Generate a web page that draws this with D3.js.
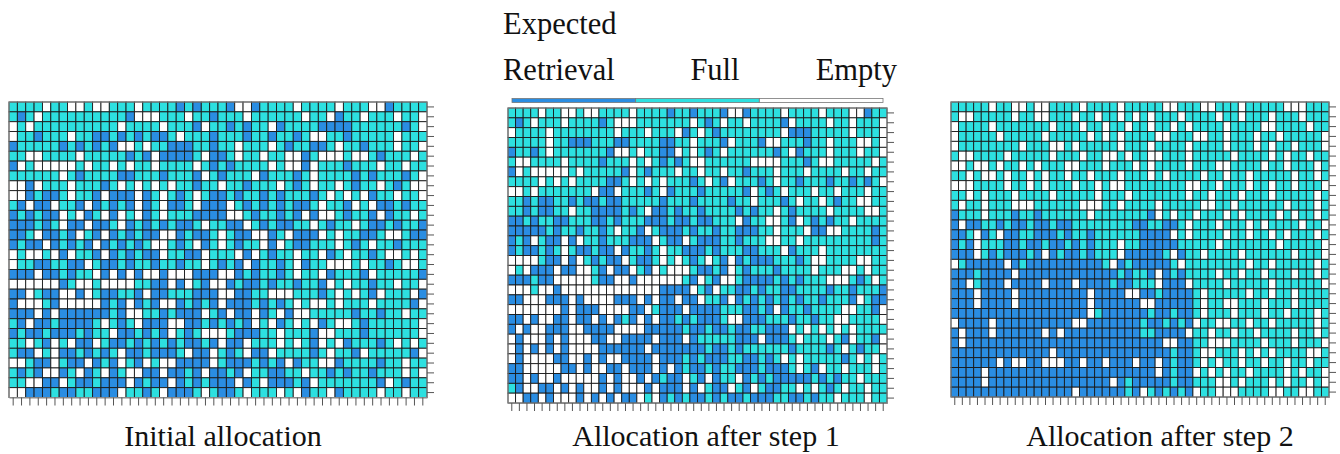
<!DOCTYPE html>
<html><head><meta charset="utf-8">
<script src="https://cdn.jsdelivr.net/npm/d3@7"></script>
<style>html,body{margin:0;padding:0;background:#fff;}svg{display:block;}</style>
</head><body>
<svg id="chart" width="1340" height="454"></svg>
<script>
// cell states: b = Expected Retrieval, c = Full, w = Empty
const stateKeys = ["b", "c", "w"];
const stateLabels = ["Retrieval", "Full", "Empty"];
const panelTitles = ["Initial allocation", "Allocation after step 1", "Allocation after step 2"];

const initialRows = [
"ccccwccwwc wwcccwcccc bcbcccbwwb ccccwccccw cccwwbcccc",
"cbcwcccccc ccccbwwwcc cwccbcccwc cccccwccwb ccwcccwccw",
"wcwccccccc cccwccccwc ccbwccbcbc cwbccccbbb bccccccbcw",
"wccbcccwcc bbcbcbcbbc wcccbcccbc cbccbcwwcc bcccccwccc",
"bcccccbcbc bcbwwcwccb bbccbccwcc cwcbccbbcw ccbcccwccw",
"ccwwccccwc ccccbcbwbb bbcwbbcwcc wccwwbcwww cwwcbcccwc",
"bwcwwwwwcw ccwcwccwcc ccwcbcbccc cwcwwbwccc bcccwccwcc",
"ccccccwcbc cccbbcccbc ccbwcbcccw bcccbcwccc cbcbcccbcw",
"wwbwcccwcc cbcwcwcwcw ccbccwccbc ccwcbcwccw cbccwcbcww",
"wwbcbbcwcc bwbbbwbcwc bcwcbbcbcc bcbcccbcwc wcwbccwccw",
"cbwbbwccbw bcbcbwbcwb bcwbbbwcbc bcbcbbcwcc bwcwbbcbcc",
"bcbcbbwcwb cwbwcwbcwc ccbbbbwwcb ccbcbwbwwc bccbwbccwc",
"bbbcbcwbbw bbcwbcbcbc bbcwccbbwc bcbbccwcbc cwcbbcbccb",
"bbcwbbcbwc bwbcbcbbww bcbbcwcbbw wbcwbbbwcw ccbbcwwcbb",
"bcbbwbcbcb wbcbcbcwwc bcwbcwcbcc wbwcbbcccw cbcwccbccc",
"wcwwcwbwcc bwbcbcbbwc cbbwcccwbw cbccwccwbc wccbcwwcwc",
"wccbbccbbw cbbcbccbcc bccwcbcbwb ccbcwbccww wcwccbcwwc",
"bbbwbbcbcc wbwbwbwwbw wwbbbwwbcb ccbcwccwbc ccbwcccccb",
"wwwwwwbcww cwwwwccbbw bwcbwwbcbb cbccbccbwc wccbccwccw",
"bbwcbbwwbw cbbccbwbbc ccbbbwwbbc cwwwcccbcw cwcbwcccwb",
"bwwwcbwwww wbcbwbcbww bcbcbwbbbc bcbcwcwwcw cccwccccbw",
"bbbwbwbbbb bbcbwwccbc bbbwcbwbbw bcwbwwcccc cbccbccwcc",
"cbwbbcbbbb cwcbcwbbbw wbbcbcbcbw cwbcwcwbcw wcbccccccw",
"bcbbcbbbcb ccwbbcbcbw cbcwwwcbbb ccwcccbwwc ccbccccccw",
"ccwcbwcwbb wcbbcbcbcb cbbcbwbbwc ccwcwcbwcw bcccbcwcwc",
"cbbwcwbbcb cbcwbbcbbb cwbbwcbcwb bwccccbcwc cbwcccccbw",
"wwcbbwcbbw bcbwcbwcww bbbbwcbbbc bcbwbccwwb ccccbccwcc",
"cbcbwwbcwb cwbcwwbbwb bcbwbbcbwc cbbccwccbc bccbcccwcw",
"ccwwbbwcbb cbbbwbcbbw bcbcbbbwbc wbbbcbwccc ccccbwcbcc",
"wwbbbcbbcc bbbwccbcwb bbcwcbbcwc ccwcwbccwb ccccwccwcc"
];

const step1Rows = [
"ccccwccwwc wwccccwccc cbccbcccbw wbccccwccc cwcccwwbcc",
"cbcwcccwcc ccbcwwwccc ccccwcbcwc cwccccbwcc ccwccwcccw",
"wccccwcccc ccccwcccwc ccwbcwcbcc ccccccwbbb cccccwcccw",
"cccccwccbb bcccbbcccc bbccwcccbw cccbwwcccb ccwcccwwcw",
"bccbcwcccc cccbwwcwcc bbwcwcbcwc cccccbcwbc ccwcccwccw",
"cwwccccwcc ccbcccwcwc bcbcwwcccc ccwwwwcccb cwwcccccwc",
"bwcwwwwwcw cccccbwcbc ccwccwccwc cbcccwcccw ccccwccwcc",
"ccccwcwcwc cccbbcwcwc wcccbcwcbw cccbcwccbc ccbccbcbcw",
"wwcwcccccc cwbbwcccbc wbcccbcccc cbwcbcwccc wccwcccwcc",
"ccbcbbccbc bbcbbccccc bcccbccccb ccwcccbcwc cwcbccwwcc",
"ccbcbbccwc cbbbbcbcwb bcbccbcccc bcbccwcbcc ccwccccwwc",
"bbcbccbbcc cbbcbcccbb bcbbcbbccc wbccwwcbwc bcbccwcccc",
"bbbbbcbccb ccbcwccbwc bbbcbccbcc bbbccwcccw bbwwccccbc",
"bcbwcbbwbw ccbcccbbbw cbbwcbbbcc bcccwwccwc ccccccccbc",
"bcbbcbcwcb bcbbwbccbc wccbbbcbcc cbbcccwbcc cwcccccccc",
"wwwwcbbwbw cbcbbwcbbc wcwcbcwcbw bcbbbcccbc wwccccwwcc",
"wcwbbbwbbw wcbwbbwcbw cwwwcbbcbw cbcccbcccc wcccwwcwcc",
"bbbcbbwwww wcbbwwbwww wwwcbwcbww cbbbbcbcbc ccwwwcbcwc",
"wwwcwwbwww wwwwwwwwww bbbbwcbwcc bbcbccbbcc ccbccbcccb",
"bbwwwbbbwb wwwwbbbwbw bbwbbwccbw bcbcbcbcbc cbcccbwcbb",
"wwwwwwwbwb bbwwwwbbwc bbbwbbbbcc cbbcbwbccb ccccwwccbw",
"bbwbwwbbwb bwbwbcbwbw bbcbcbbbcw wbbbcccbcc bccwwccccw",
"bwbwwbbbww bbbbwwwwbb bbbcbbcbbc bbccbbbwcw cwcwcwcccc",
"wbwwwbwbww wbbwwbbbbw bbbwbccccc bbbwbbbcwc ccwcbwccbw",
"wbwbwbwbww wwbbbbbbwb bbbbbbcbbc bccccccbcc ccbcwcbccw",
"wbwwwwbbww bwbwwbbbbw bbbcbcbbbc cbbcbcwcwc ccccbcwcwc",
"bbwwwwwbbw bwwbbwbbbw bwbcbbcbcc bbbcbbbcwc bwccwcccwc",
"bbwbwwbwww wwbwbwwbwb cbbwcbwbcc wbcbcbbbbb cbcbccwccc",
"cbwwbbwbwb wwbwbwwwbw bbbwbwcbbw cbwcbbccwc wcbcwccwcc",
"wwbbwbwwwb wbwbwbbwcw bcbcbbcbcb bcbbbccbbc bccwcccwcc"
];

const step2Rows = [
"cccccwccww cwwccccwcc ccwcccccww cccwwcccwc ccccwwwccc",
"cwwcccccwc cwwcccwccw ccwcwcwccc wccccwccwc ccwcccwccc",
"wccccwcccc cccwcccwcc wccwccwccw cwccccwccc cwwccccwcc",
"wcccccwccc ccwcccccwc wcwccccwwc ccwwccwccc wccwcccccw",
"wccccccccw cccwwcwccc ccwcccwccc cwccccwccc wcwccwcccw",
"cwwccccwcc cccwcccwcc wwcwccwwcc cwcccccwcc ccwcwccwcc",
"wwcwwcwccw cwcccwwccc wcccwcwccc cwcccwwccc cwccwcccwc",
"ccwcwwcwcc wcwccwccwc ccwcccwcwc cccwccwccw cccccwccwc",
"wwwccccwcc wcwcccwccw cwwccccccc cwwccwcccw ccwccwcccw",
"ccwcwcccwc cccwcccccw cccwcccccc cwccwcccwc ccwcccccwc",
"cwccwcccww wccccccwww ccwccccwcc cccwwccwcc ccccwcccwc",
"bcccwcccbc cbccccccwc ccccccbwcw ccwcccwcwc cccwcwccwc",
"bwbbccbcbb cbbcbbcccc ccccbbccbb cwcccwcccw cwccccwccw",
"bbcwbcwbbc cbbbcbccbc cccccbbbbw cwccccwccw ccwcwcccwc",
"bcbwcccbbc bbcbbcbcbc ccwccbbbbb cccccwcccc cccwcccccw",
"bbbwcbcbbb cbwbcbbcbc ccwbbbbbcw bccwccccwc cccccwcccw",
"wcbbbbbwbc bbbbbbbbbb cwbcbbbbbc wccccccccw ccwcccccwc",
"bbbcbbbbwb bbbbbbbbbb bbcbccbwbc bccccwccwc cwcccwccwc",
"bbwcbbbwbb bbwbbbwbbb bcbbcccwbb bwccccwccc ccwccccccw",
"bbbwbbbbwb bbbbbbbbwb bbbwwbbcbb bbcwcccccw ccwccwcccc",
"bbbwbbbbwb bbbbbbbbwb bbbbbwwbbb bbcwccwwcc cwcccwcccc",
"bbbbbbbbbb bbbbbbbbwc bbbbbbcbbc bbcwcccwcc cwccwcccwc",
"wbbbbwbbbb bbbbbbwwbb bbbbbcbbcb cbwccwwccw ccwcccccwc",
"bwbbbwbbbb bbwbwbbbbb bbbbbccbbb bwccwccwcc wccccwccwc",
"bwbbbbbbbb bbbbbbbbbb bbbbbbbbww bbccwwwccc cwcccwcccw",
"bbbbbbbbbb bbbwbbbbbb bbbbbbbbbc bbcwwcccwc wcwccccwwc",
"bbbbbbwbww bbwwwbbwbb wbbbwbbwbc bbcwcwccwc cwccwccwcc",
"bbbbwbbbbb bbbbbbbbbb bbbbbbbwbc bbwcwcwccw ccccwcwccw",
"bbbbwbbbbb bbbbbbbbbb bwbcbbbbbc bbcccwwcwc ccwcwccwcw",
"bbbbbbbbbb bbbbbbwbbb bbbcbwcbcb cbwccwwwcc ccwwccwwcc"
];

const colorScale = d3.scaleOrdinal().domain(stateKeys).range(["#2a8de2", "#2de0e0", "#ffffff"]);

const svg = d3.select("#chart");
const FONT = "'Liberation Serif', 'Times New Roman', serif";

const panels = [
  {rows: initialRows, x0: 9,   x1: 427, y0: 102, y1: 397.5, title: panelTitles[0], tx: 223},
  {rows: step1Rows,   x0: 508, x1: 887, y0: 108, y1: 403,   title: panelTitles[1], tx: 706},
  {rows: step2Rows,   x0: 951, x1: 1329, y0: 102, y1: 397,  title: panelTitles[2], tx: 1160}
];

panels.forEach(p => {
  const grid = p.rows.map(r => r.replace(/\s+/g, "").split(""));
  const nRows = grid.length;
  const nCols = grid[0].length;
  const x = d3.scaleBand().domain(d3.range(nCols)).range([p.x0, p.x1]).padding(0);
  const y = d3.scaleBand().domain(d3.range(nRows)).range([p.y0, p.y1]).padding(0);
  const cells = [];
  grid.forEach((row, ri) => row.forEach((s, ci) => cells.push({r: ri, c: ci, s})));
  const g = svg.append("g");
  g.selectAll("rect.cell").data(cells).join("rect")
    .attr("class", "cell")
    .attr("x", d => x(d.c)).attr("y", d => y(d.r))
    .attr("width", x.bandwidth()).attr("height", y.bandwidth())
    .attr("fill", d => colorScale(d.s))
    .attr("stroke", "#1a1a1a").attr("stroke-width", 0.9);
  g.append("rect").attr("x", p.x0).attr("y", p.y0)
    .attr("width", p.x1 - p.x0).attr("height", p.y1 - p.y0)
    .attr("fill", "none").attr("stroke", "#8a8a8a").attr("stroke-width", 1);
  const ay = d3.axisRight(y).tickFormat("").tickSizeInner(7).tickSizeOuter(0);
  const gy = svg.append("g").attr("transform", `translate(${p.x1},0)`).call(ay);
  gy.select(".domain").attr("stroke", "#8a8a8a");
  gy.selectAll(".tick line").attr("stroke", "#555").attr("stroke-width", 1);
  const ax = d3.axisBottom(x).tickFormat("").tickSizeInner(8).tickSizeOuter(0);
  const gx = svg.append("g").attr("transform", `translate(0,${p.y1})`).call(ax);
  gx.select(".domain").attr("stroke", "#8a8a8a");
  gx.selectAll(".tick line").attr("stroke", "#555").attr("stroke-width", 1);
  svg.append("text").attr("x", p.tx).attr("y", 446)
    .attr("text-anchor", "middle").attr("font-family", FONT).attr("font-size", 30)
    .attr("fill", "#111").text(p.title);
});

// legend
const lx = d3.scaleBand().domain(stateKeys).range([512, 883]).padding(0);
const lg = svg.append("g");
lg.selectAll("rect").data(stateKeys).join("rect")
  .attr("x", d => lx(d)).attr("y", 98.5).attr("width", lx.bandwidth()).attr("height", 4)
  .attr("fill", d => colorScale(d)).attr("stroke", "#777").attr("stroke-width", 0.8);
lg.append("text").attr("x", 503).attr("y", 34).attr("font-family", FONT).attr("font-size", 30.5)
  .attr("fill", "#111").text("Expected");
const labelPos = [{x: 503, anchor: "start"}, {x: 715, anchor: "middle"}, {x: 897, anchor: "end"}];
lg.selectAll("text.lab").data(stateLabels).join("text").attr("class", "lab")
  .attr("x", (d, i) => labelPos[i].x).attr("y", 80)
  .attr("text-anchor", (d, i) => labelPos[i].anchor)
  .attr("font-family", FONT).attr("font-size", 30.5).attr("fill", "#111").text(d => d);
</script>
</body></html>
